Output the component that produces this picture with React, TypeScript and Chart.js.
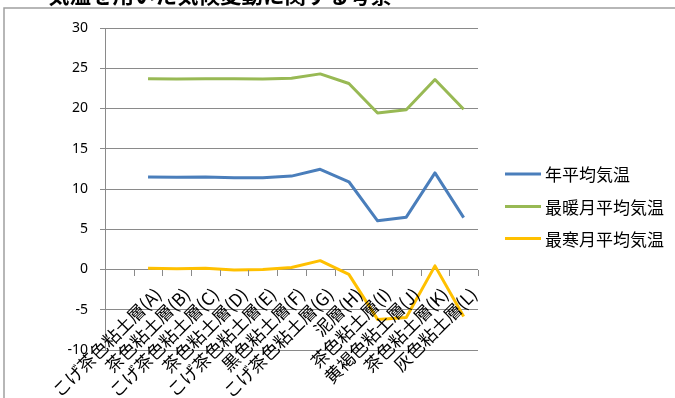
import { useEffect, useRef } from 'react';
import { Chart, registerables } from 'chart.js';

Chart.register(...registerables);

// Strata (first slot is an unlabeled, empty category)
const categories: string[] = [
  '',
  'こげ茶色粘土層(A)',
  '茶色粘土層(B)',
  'こげ茶色粘土層(C)',
  '茶色粘土層(D)',
  'こげ茶色粘土層(E)',
  '黒色粘土層(F)',
  'こげ茶色粘土層(G)',
  '泥層(H)',
  '茶色粘土層(I)',
  '黄褐色粘土層(J)',
  '茶色粘土層(K)',
  '灰色粘土層(L)',
];

const annualMean: (number | null)[] = [null, 11.5, 11.45, 11.5, 11.4, 11.4, 11.6, 12.45, 10.9, 6.05, 6.5, 12.0, 6.45];
const warmestMonthMean: (number | null)[] = [null, 23.7, 23.65, 23.7, 23.7, 23.65, 23.75, 24.3, 23.1, 19.45, 19.85, 23.6, 19.9];
const coldestMonthMean: (number | null)[] = [null, 0.15, 0.1, 0.15, -0.05, 0.0, 0.25, 1.1, -0.6, -6.2, -5.95, 0.45, -5.85];

const seriesNames = ['年平均気温', '最暖月平均気温', '最寒月平均気温'];
const seriesColors = ['#4a7ebb', '#98b954', '#ffc000'];

const yMin = -10;
const yMax = 30;
const yStep = 5;

const title = '気温を用いた気候変動に関する考察';

const GRID = '#8a8a8a';
const CJK = '"Noto Sans CJK JP", "Noto Sans", sans-serif';

const decorations = {
  id: 'decorations',
  afterDraw(chart: any) {
    const { ctx, chartArea, scales } = chart;
    const xs = scales.x;
    const ys = scales.y;
    const y0 = Math.round(ys.getPixelForValue(0));
    const step = (chartArea.right - chartArea.left) / categories.length;

    ctx.save();

    // category tick marks hanging below the zero line
    ctx.strokeStyle = GRID;
    ctx.lineWidth = 1;
    ctx.beginPath();
    for (let i = 0; i <= categories.length; i++) {
      const px = Math.round(chartArea.left + i * step) + 0.5;
      ctx.moveTo(px, y0);
      ctx.lineTo(px, y0 + 6);
    }
    ctx.stroke();

    // rotated category labels
    ctx.font = `17.5px ${CJK}`;
    ctx.fillStyle = '#000';
    ctx.textAlign = 'right';
    ctx.textBaseline = 'middle';
    categories.forEach((label, i) => {
      if (!label) return;
      const cx = xs.getPixelForValue(i);
      ctx.save();
      ctx.translate(cx + 10, y0 + 21);
      ctx.rotate(-Math.PI / 4);
      ctx.fillText(label, 0, 0);
      ctx.restore();
    });

    // legend
    const legendX = 505;
    const legendY = [174, 206.5, 238.5];
    ctx.font = `17px ${CJK}`;
    ctx.textAlign = 'left';
    ctx.textBaseline = 'middle';
    seriesNames.forEach((name, i) => {
      ctx.strokeStyle = seriesColors[i];
      ctx.lineWidth = 3;
      ctx.lineCap = 'butt';
      ctx.beginPath();
      ctx.moveTo(legendX, legendY[i]);
      ctx.lineTo(legendX + 36, legendY[i]);
      ctx.stroke();
      ctx.fillStyle = '#000';
      ctx.fillText(name, legendX + 40, legendY[i] + 1);
    });

    // outer frame
    ctx.strokeStyle = '#a0a0a0';
    ctx.lineWidth = 1.5;
    ctx.beginPath();
    ctx.moveTo(4, chart.height);
    ctx.lineTo(4, 8);
    ctx.lineTo(chart.width, 8);
    ctx.stroke();

    // title
    ctx.font = `bold 21.5px ${CJK}`;
    ctx.fillStyle = '#000';
    ctx.textAlign = 'left';
    ctx.textBaseline = 'alphabetic';
    ctx.fillText(title, 48, 2.5);

    ctx.restore();
  },
};

export default function App() {
  const canvasRef = useRef<HTMLCanvasElement | null>(null);

  useEffect(() => {
    if (!canvasRef.current) return;
    const series = [annualMean, warmestMonthMean, coldestMonthMean];
    const chart = new Chart(canvasRef.current, {
      type: 'line',
      data: {
        labels: categories,
        datasets: series.map((values, i) => ({
          label: seriesNames[i],
          data: values,
          borderColor: seriesColors[i],
          backgroundColor: seriesColors[i],
          borderWidth: 3,
          pointRadius: 0,
          pointHoverRadius: 0,
          tension: 0,
          borderJoinStyle: 'round' as const,
          fill: false,
        })),
      },
      options: {
        responsive: false,
        animation: false,
        events: [],
        layout: { padding: { left: 0, top: 28, right: 197, bottom: 48 } },
        plugins: {
          legend: { display: false },
          tooltip: { enabled: false },
        },
        scales: {
          x: {
            type: 'category',
            display: false,
            offset: true,
          },
          y: {
            min: yMin,
            max: yMax,
            ticks: {
              stepSize: yStep,
              padding: 12,
              color: '#000',
              font: { family: '"Noto Sans", sans-serif', size: 14 },
            },
            grid: { color: GRID, tickLength: 5 },
            border: { color: GRID },
            afterFit(scale: any) {
              scale.width = 105;
            },
          },
        },
      },
      plugins: [decorations],
    });
    return () => chart.destroy();
  }, []);

  return (
    <div style={{ position: 'fixed', left: 0, top: 0, width: 675, height: 398, background: '#fff' }}>
      <canvas ref={canvasRef} width={675} height={398} style={{ display: 'block' }} />
    </div>
  );
}
